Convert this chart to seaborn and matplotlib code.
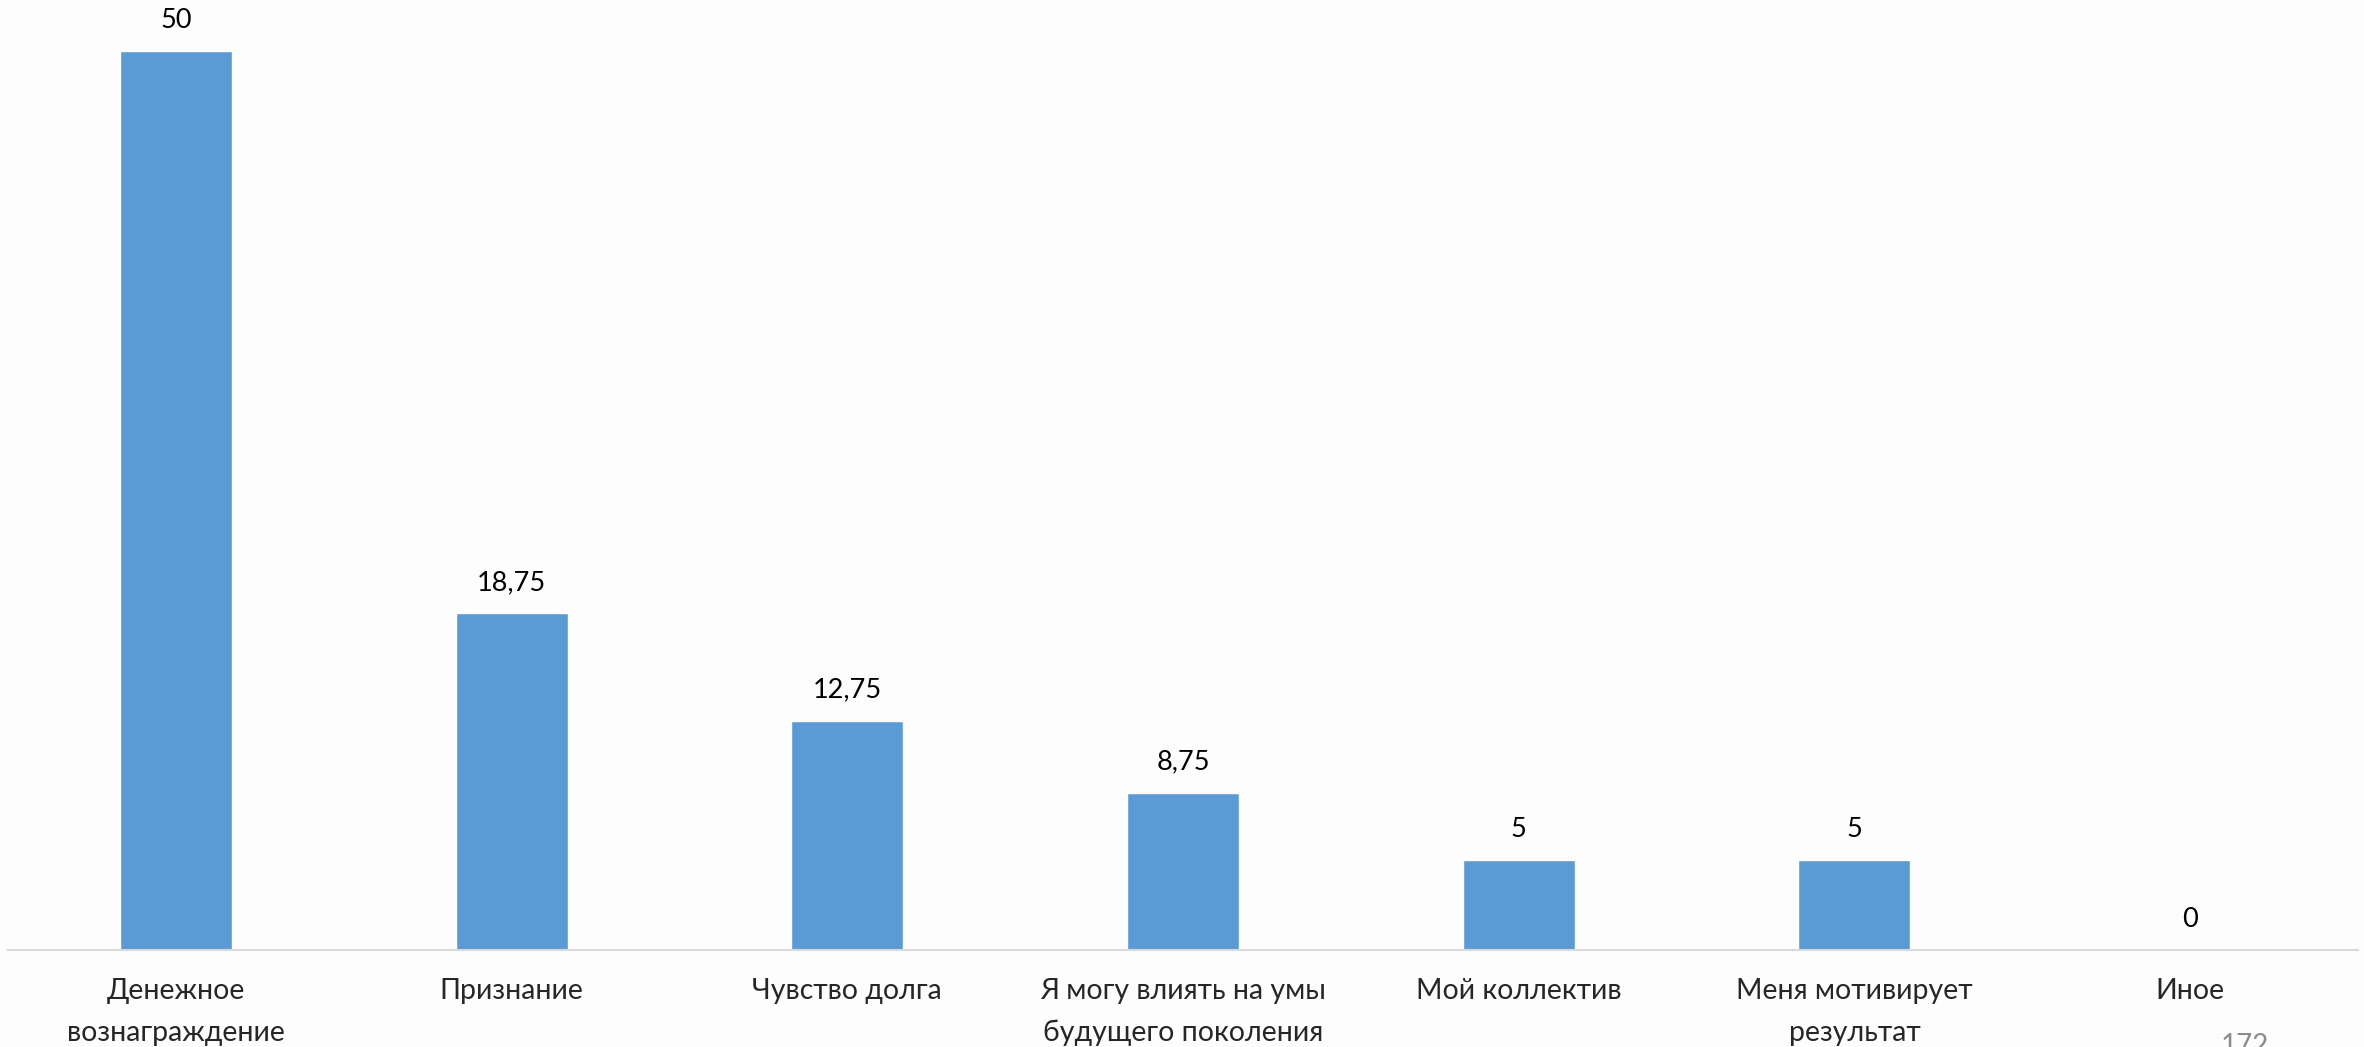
import matplotlib.pyplot as plt
import numpy as np
import pandas as pd
import seaborn as sns

categories = ['Денежное\nвознаграждение', 'Признание', 'Чувство долга',
              'Я могу влиять на умы\nбудущего поколения', 'Мой коллектив',
              'Меня мотивирует\nрезультат', 'Иное']
values = [50, 18.75, 12.75, 8.75, 5, 5, 0]
value_labels = ['50', '18,75', '12,75', '8,75', '5', '5', '0']

BAR_COLOR = '#5B9BD5'
BG = '#FDFDFD'

sns.set_style('white')
plt.rcParams['font.family'] = ['Lato', 'DejaVu Sans']

df = pd.DataFrame({'cat': categories, 'val': values})

fig = plt.figure(figsize=(23.64, 10.47), dpi=100, facecolor=BG)
ax = fig.add_axes([8 / 2364, 97 / 1047, 2350 / 2364, 950 / 1047])
ax.set_facecolor(BG)
sns.barplot(data=df, x='cat', y='val', color=BAR_COLOR, width=0.334,
            saturation=1, ax=ax)
ax.set_ylim(0, 52.84)
ax.set_xlim(-0.5, len(categories) - 0.5)

for i, (v, lab) in enumerate(zip(values, value_labels)):
    ax.annotate(lab, (i, v), xytext=(0, 13), textcoords='offset points',
                ha='center', va='bottom', fontsize=19.5, color='black')

for s in ['top', 'right', 'left']:
    ax.spines[s].set_visible(False)
ax.spines['bottom'].set_color('#D9D9D9')
ax.spines['bottom'].set_linewidth(1.5)
ax.set_yticks([])
ax.tick_params(axis='x', length=0, pad=20, labelsize=20.5)
for t in ax.get_xticklabels():
    t.set_linespacing(1.75)
ax.set_xlabel('')
ax.set_ylabel('')

fig.text(2245 / 2364, 1 - 1033 / 1047, '172', ha='center', va='top',
         fontsize=20, color='#8C8C8C')

fig.savefig('out.png', dpi=100, facecolor=BG)
